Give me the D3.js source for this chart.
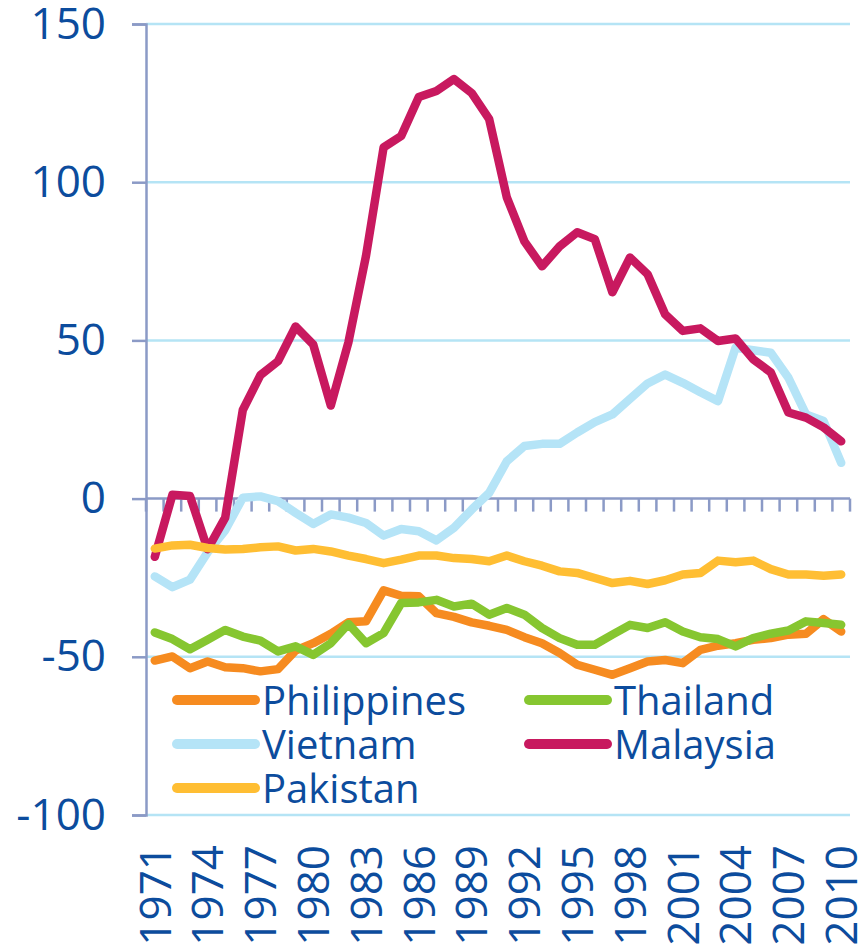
<!DOCTYPE html>
<html>
<head>
<meta charset="utf-8">
<script src="https://cdn.jsdelivr.net/npm/d3@7"></script>
<style>
  body { margin: 0; background: #fff; }
  text { font-family: "Open Sans", "Liberation Sans", sans-serif; fill: #0c4c9d; }
</style>
</head>
<body>
<div id="chart"></div>
<script>
// categories
const years = d3.range(1971, 2011);
const yTicks = [150, 100, 50, 0, -50, -100];
const xLabelYears = [1971, 1974, 1977, 1980, 1983, 1986, 1989, 1992, 1995, 1998, 2001, 2004, 2007, 2010];

// series values
const philippines = [-51.2, -49.9, -53.6, -51.5, -53.3, -53.6, -54.6, -53.9, -48, -45.7,
    -42.7, -39.1, -38.8, -29, -30.7, -30.9, -36.2, -37.4, -39.1, -40.2,
    -41.5, -43.8, -45.7, -48.8, -52.5, -54.1, -55.7, -53.6, -51.5, -51,
    -52, -47.8, -46.5, -45.7, -44.6, -44.1, -43, -42.7, -38.1, -42];
const thailand = [-42.3, -44.4, -47.6, -44.6, -41.5, -43.6, -44.9, -48.3, -46.7, -49.4,
    -45.7, -39.6, -45.7, -42.5, -33, -32.8, -32, -34.1, -33.2, -36.7,
    -34.6, -36.7, -40.9, -44.1, -46.2, -46.2, -43, -39.9, -40.9, -39.1,
    -42, -43.8, -44.4, -46.7, -44.1, -42.7, -41.7, -38.8, -39.3, -39.9];
const vietnam = [-24.6, -28, -25.6, -17, -10, 0.3, 0.7, -0.8, -4.5, -8,
    -5, -6, -7.7, -11.7, -9.6, -10.3, -13.2, -9.2, -3.5, 1.8,
    11.8, 16.6, 17.3, 17.3, 20.9, 24.2, 26.6, 31.5, 36.4, 39.2,
    36.6, 33.6, 30.8, 47.7, 46.9, 46.1, 38.2, 26.6, 24.5, 11.3];
const malaysia = [-18.4, 1.2, 0.8, -16, -6, 28, 39, 43.4, 54.4, 48.7,
    29.4, 49.4, 76.7, 111, 114.6, 126.9, 128.8, 132.6, 128.2, 119.9,
    95.2, 81.3, 73.4, 79.7, 84.2, 82, 65.2, 76.2, 70.9, 58.2,
    53, 53.8, 49.8, 50.6, 44, 39.9, 27.2, 25.6, 22.5, 18.1];
const pakistan = [-15.8, -14.8, -14.6, -15.6, -16.1, -15.9, -15.4, -15.1, -16.4, -15.9,
    -16.7, -18, -19.1, -20.4, -19.3, -18, -18, -18.8, -19.1, -19.8,
    -18, -19.8, -21.2, -23, -23.5, -25.1, -26.7, -26, -27, -25.8,
    -24, -23.5, -19.6, -20.1, -19.6, -22.3, -24, -24, -24.4, -24];

const seriesNames = ["Philippines", "Thailand", "Vietnam", "Malaysia", "Pakistan"];
const seriesValues = [philippines, thailand, vietnam, malaysia, pakistan];
const seriesColors = ["#f68b20", "#86c630", "#b5e4f7", "#c8195f", "#ffbe33"];

const width = 863, height = 948;
const plotLeft = 146, plotRight = 850, plotTop = 24, plotBottom = 815;
const axisColor = "#8b9ac6", gridColor = "#b5e4f5";

var svg = d3.select("#chart")
    .append("svg")
    .attr("width", width)
    .attr("height", height);

var x = d3.scalePoint()
    .domain(years)
    .range([plotLeft, plotRight])
    .padding(0.5);

var xBand = d3.scaleBand()
    .domain(years)
    .range([plotLeft, plotRight]);

var y = d3.scaleLinear()
    .domain([-100, 150])
    .range([plotBottom, plotTop]);

// gridlines
svg.append("g")
    .selectAll("line")
    .data(yTicks.filter(function(d) { return d !== 0; }))
    .join("line")
    .attr("x1", plotLeft)
    .attr("x2", plotRight)
    .attr("y1", function(d) { return y(d); })
    .attr("y2", function(d) { return y(d); })
    .attr("stroke", gridColor)
    .attr("stroke-width", 2.5);

// y axis (plain hyphen for negatives, like the original)
var yAxis = svg.append("g")
    .attr("transform", "translate(" + plotLeft + ",0)")
    .call(d3.axisLeft(y).tickValues(yTicks).tickSize(14).tickPadding(26)
        .tickFormat(function(d) { return String(d); }));
yAxis.select(".domain").attr("stroke", axisColor).attr("stroke-width", 2.5);
yAxis.selectAll(".tick line").attr("stroke", axisColor).attr("stroke-width", 2.5);
yAxis.selectAll(".tick text")
    .style("font-size", "44px")
    .attr("fill", "#0c4c9d");

// x axis line at zero with ticks between categories
var boundaries = years.map(function(d) { return xBand(d); }).concat([plotRight]);
var xAxis = svg.append("g");
xAxis.append("line")
    .attr("x1", plotLeft)
    .attr("x2", plotRight)
    .attr("y1", y(0))
    .attr("y2", y(0))
    .attr("stroke", axisColor)
    .attr("stroke-width", 2.5);
xAxis.selectAll(".xtick")
    .data(boundaries)
    .join("line")
    .attr("class", "xtick")
    .attr("x1", function(d) { return d; })
    .attr("x2", function(d) { return d; })
    .attr("y1", y(0))
    .attr("y2", y(0) + 13)
    .attr("stroke", axisColor)
    .attr("stroke-width", 2.5);

// year labels at the bottom
svg.append("g")
    .selectAll("text")
    .data(xLabelYears)
    .join("text")
    .attr("transform", function(d) { return "translate(" + x(d) + ",845) rotate(-90)"; })
    .attr("text-anchor", "end")
    .attr("dy", "0.36em")
    .style("font-size", "44px")
    .text(function(d) { return d; });

// lines
var line = d3.line()
    .x(function(d, i) { return x(years[i]); })
    .y(function(d) { return y(d); });

svg.append("g")
    .selectAll("path")
    .data(seriesValues)
    .join("path")
    .attr("fill", "none")
    .attr("stroke", function(d, i) { return seriesColors[i]; })
    .attr("stroke-width", 8.5)
    .attr("stroke-linejoin", "round")
    .attr("stroke-linecap", "round")
    .attr("d", line);

// legend
var legendPos = [[177, 700], [529, 700], [177, 744], [529, 744], [177, 788]];
var legend = svg.append("g")
    .selectAll("g")
    .data(seriesNames)
    .join("g")
    .attr("transform", function(d, i) { return "translate(" + legendPos[i][0] + "," + legendPos[i][1] + ")"; });
legend.append("line")
    .attr("x1", 0)
    .attr("x2", 78)
    .attr("stroke", function(d, i) { return seriesColors[i]; })
    .attr("stroke-width", 10)
    .attr("stroke-linecap", "round");
legend.append("text")
    .attr("x", 85)
    .attr("y", 15)
    .style("font-size", "40px")
    .text(function(d) { return d; });
</script>
</body>
</html>
